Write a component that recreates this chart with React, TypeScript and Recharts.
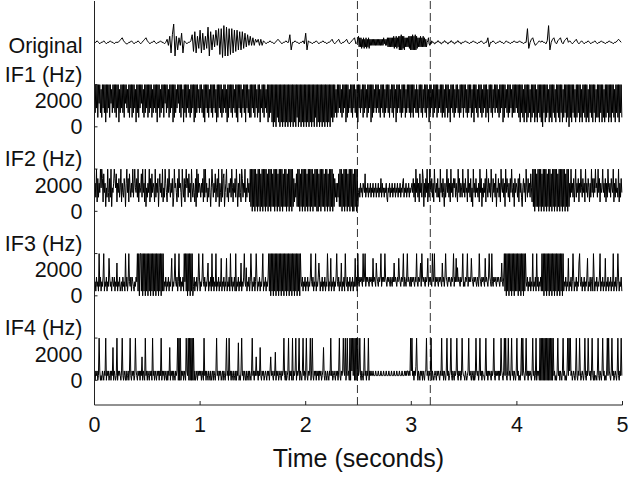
import React from 'react';
import { LineChart, Line, XAxis, YAxis, ReferenceLine, Label } from 'recharts';

// time axis (seconds)
const timeTicks = [0, 1, 2, 3, 4, 5];
const eventTimes = [2.49, 3.18];
const segmentSeconds = 0.5; // each string below covers half a second

// original signal, one letter per sample, 'm' = 0
const originalSegments = [
  'mmnmlmmnmlmmnmmlmmmnopnmllmmnmlmmnmlmnop',
  'nmlmmnmlmmnmmlmokqfrydqhpksfnmlmmnrgtfqi',
  'ufshqiwdthrjukvevcxdwdvevfuguhthtisjrkqk',
  'pkomokoknmlmmnmmlmnonmlmmnmmrhmmnmmlmmnl',
  'shnmmlmmnmlmmnmmlmmnomlmnomlmmnomlmnoplm',
  'qjpjpiojpiojpiojpiokokokokokokokokokokokplokokpjpjpjpjpjqipjqipjqhqhrhqiqhpjpjpjqiqh',
  'qhrhqhrhqipjpjqjpjqjpjojmnplkmlnmmmllmmmnnmmmllmmmnnmmmllmmmnnmmmllmmmnnmmmllmmm',
  'mnmmlmmnmmlmmnmlmmpjmmnmlmmnmmlmnmmlmmnm',
  'mmnmmlmmvimopmklmnmnmmlnxhmopmlnopmlnopm',
  'nmlmnomlmnmlmmnmlmmnmlmmnmmlmmnmmlmmnonm',
];

// instantaneous frequencies, one digit per sample (level * hzPerLevel)
const if1Segments = [
  '93949295938294939193949295839493929491839493929594839294929394819392949593829394',
  '92939492839493919492839492959394829394919293849593929481939294938293949192939483',
  '94938291949392849392949381929493928394938192949392948392919493928493919493829294',
  '93929482939184939294839192939190919092919091909190919091909190919092909190919091',
  '90919091909190929091909190919091909190929192938293949382939491929384939294938291',
  '94938492939482939491929384939493829493928394939284939294819394938293949283949392',
  '93929483938294939284939294819394829394929384939293829492938194939283949382939492',
  '94938293949283919493829493928394929381949392849394938293949192948392939482939394',
  '93929193928193919293819293919281939291909391929381929193928193929193918293919290',
  '92919392819293919281939291928193929193918292919391928192939192919392819392919392',
];
const if2Segments = [
  '46392736495972846153942739154697582647359264375169472853649369547392645839462915',
  '36492738465293647158463925396427495364713956427395641953726957384629536427193846',
  '53647293946253741596364825739164293781469352647395264739516384297364925374629190',
  '91909180919081909190918091909181909190819091908191908190919091726381919081909190',
  '91809190919081919090819091918091908190919081736263819190819091908190919080919091',
  '45364536548354635463546354635463547364535463254635463546354635463546735463546354',
  '56473629473628463971637492639547362954637352946374163594736294637573642947365394',
  '63745294637251946374536294715364729537463952746381547362954736194753627495361746',
  '53728463157462953746385291909181909190819091908190918091909190819091909190819091',
  '63946372593647264953746294637526394737495639472645946372639546375492637453926374',
];
const if3Segments = [
  '23142319241324913241328423143241327132412314231924139324143213243919099190919091',
  '90919091909190919091909191324132413248132493241392413241939190919091902413241394',
  '13249324132471324192413291324132813241328132419241324191324132713249326132413941',
  '32413941324132491324132491909190919091909190919091909190919091909190919093241324',
  '13241324932413291324741324132413294132813241324932413271324193241324132413282419',
  '32434329349243432434328343274324349243439432434324324373432438432434924324934324',
  '24343243932434729434324348243432934924343243432734249432434324349243836343243492',
  '32434924343843243432432943243432834324943293243432434324373249190919091909190919',
  '19091909190919324132413291324192413241919091909190919091909190919091909132413281',
  '32413941324132793241324132481324134194132413249132413281324132413291324139413241',
];
const if4Segments = [
  '10212019201021021902120120217021019021210291021020120291021201921021202150210912',
  '02102120912021021202190212021020217021202102129090902120210921909090909020120212',
  '12021091202102102012021029120212012021029120912021021020218010291202102012021029',
  '12021512021710212012102120251210216021201210212910201290212090212902129021029120',
  '29102129029102120212021201271021021021912012102120291021292190291209092919090909',
  '12910210291202190212112111211121112111211121112111211121112111211121112121221219',
  '29120213920210212021022912021290210121021210219120210291201291021021291021201921',
  '10210129121021020192120291202110291202121021291021212021921029191029120291202102',
  '91201029192102912021210291201902120909090909090909090909120102912021029120102919',
  '29120121029102192012102910219212029102011029102102912010291921029120121029102191',
];

const ifLabels = ['IF1 (Hz)', 'IF2 (Hz)', 'IF3 (Hz)', 'IF4 (Hz)'];
const hzTicks = [0, 2000];
const hzPerLevel = 355;

// stacking of the rows on one shared axis
const bandOffsets = [19200, 12800, 6400, 0];
const originalOffset = 25600;
const originalUnit = 115;
const bandTop = 3200;
const yDomain: [number, number] = [-1870, 28730];

const FONT = '"Liberation Sans", Arial, Helvetica, sans-serif';

type Pt = { t: number; v: number };

function decode(segments: string[], toValue: (c: string) => number, offset: number): Pt[] {
  const pts: Pt[] = [];
  segments.forEach((s, k) => {
    for (let j = 0; j < s.length; j++) {
      pts.push({ t: k * segmentSeconds + (j * segmentSeconds) / s.length, v: offset + toValue(s[j]) });
    }
  });
  return pts;
}

const originalData = decode(originalSegments, (c) => (c.charCodeAt(0) - 109) * originalUnit, originalOffset);
const ifData = [if1Segments, if2Segments, if3Segments, if4Segments].map((segs, i) =>
  decode(segs, (c) => Number(c) * hzPerLevel, bandOffsets[i])
);

const labelMap = new Map<number, string>();
labelMap.set(originalOffset - 250, 'Original');
bandOffsets.forEach((off, i) => {
  hzTicks.forEach((h) => labelMap.set(off + h, String(h)));
  labelMap.set(off + 4000, ifLabels[i]);
});
const markValues = bandOffsets.flatMap((off) => [off, off + bandTop]);
const leftTicks = Array.from(new Set([...labelMap.keys(), ...markValues])).sort((a, b) => a - b);

const LeftTick = (props: any) => {
  const { x, y, payload } = props;
  const text = labelMap.get(payload.value);
  const isMark = markValues.includes(payload.value);
  return (
    <g>
      {text && (
        <text x={x} y={y} dy="0.355em" textAnchor="end" fontSize={21.5} fill="#111" fontFamily={FONT}>
          {text}
        </text>
      )}
      {isMark && <line x1={x + 12} x2={x + 15} y1={y} y2={y} stroke="#222" />}
    </g>
  );
};

const RightTick = (props: any) => {
  const { x, y } = props;
  return <line x1={x - 3} x2={x} y1={y} y2={y} stroke="#222" />;
};

const BottomTick = (props: any) => {
  const { x, y, payload } = props;
  return (
    <g>
      <line x1={x} x2={x} y1={y - 12} y2={y - 16} stroke="#222" />
      <text x={x} y={y} dy="0.71em" textAnchor="middle" fontSize={21.5} fill="#111" fontFamily={FONT}>
        {payload.value}
      </text>
    </g>
  );
};

const TopTick = (props: any) => {
  const { x, y } = props;
  return <line x1={x} x2={x} y1={y} y2={y + 4} stroke="#222" />;
};

export default function App() {
  return (
    <div style={{ position: 'absolute', left: 0, top: 0, background: '#fff' }}>
      <LineChart width={629} height={477} margin={{ top: 1, right: 6.5, bottom: 0, left: 0 }}>
        <XAxis
          dataKey="t"
          type="number"
          domain={[0, 5]}
          ticks={timeTicks}
          interval={0}
          height={72}
          tickSize={0}
          tickMargin={12}
          tickLine={false}
          tick={BottomTick}
          axisLine={{ stroke: '#222' }}
        >
          <Label value="Time (seconds)" position="insideBottom" offset={10} fontSize={25} fill="#111" fontFamily={FONT} />
        </XAxis>
        <XAxis
          xAxisId="top"
          orientation="top"
          type="number"
          domain={[0, 5]}
          ticks={timeTicks}
          interval={0}
          height={0}
          tickSize={0}
          tickMargin={0}
          tickLine={false}
          tick={TopTick}
          axisLine={{ stroke: '#222' }}
        />
        <YAxis
          type="number"
          domain={yDomain}
          ticks={leftTicks}
          interval={0}
          width={94.5}
          tickSize={0}
          tickMargin={12}
          tickLine={false}
          tick={LeftTick}
          axisLine={{ stroke: '#222' }}
        />
        <YAxis
          yAxisId="r"
          orientation="right"
          type="number"
          domain={yDomain}
          ticks={markValues}
          interval={0}
          width={0}
          tickSize={0}
          tickMargin={0}
          tickLine={false}
          tick={RightTick}
          axisLine={{ stroke: '#222' }}
        />
        {eventTimes.map((t) => (
          <ReferenceLine key={t} x={t} stroke="#333" strokeDasharray="8 4" />
        ))}
        <Line data={originalData} dataKey="v" stroke="#000" strokeWidth={1} dot={false} isAnimationActive={false} />
        {ifData.map((d, i) => (
          <Line key={i} data={d} dataKey="v" stroke="#000" strokeWidth={1} dot={false} isAnimationActive={false} />
        ))}
      </LineChart>
    </div>
  );
}
